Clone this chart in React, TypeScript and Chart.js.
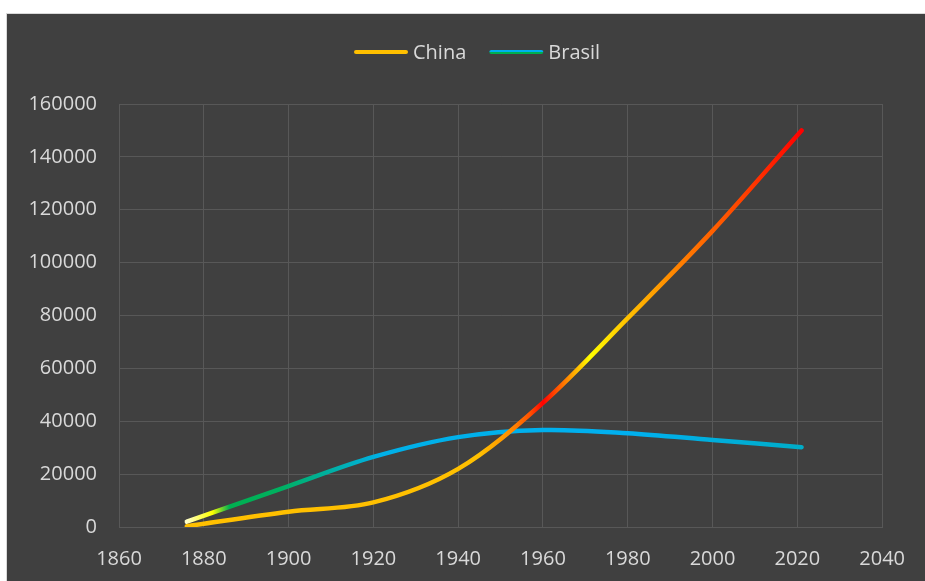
import React, { useEffect, useRef } from "react";
import { Chart, registerables } from "chart.js";

Chart.register(...registerables);

const years = [1876, 1900, 1920, 1940, 1960, 1980, 2000, 2021];
const chinaValues = [300, 5800, 9300, 22000, 47000, 79000, 112000, 150000];
const brasilValues = [2000, 15500, 26500, 34000, 36700, 35500, 32900, 30200];
const seriesLabels = ["China", "Brasil"];
const xTicks = [1860, 1880, 1900, 1920, 1940, 1960, 1980, 2000, 2020, 2040];
const yTicks = [0, 20000, 40000, 60000, 80000, 100000, 120000, 140000, 160000];

const chinaStops: [number, string][] = [
  [1876, "#FFC000"], [1945, "#FFC000"], [1952, "#FF9000"], [1957, "#FF5000"],
  [1960, "#FF0000"], [1962.5, "#FF4000"], [1966, "#FF9000"], [1969, "#FFD000"],
  [1971, "#FFFF00"], [1980, "#FFC000"], [1992, "#FF8000"], [2004, "#FF5000"],
  [2021, "#FF0000"],
];
const brasilStops: [number, string][] = [
  [1876, "#FFFFC8"], [1879, "#FFFF60"], [1882, "#FFFF00"], [1886, "#00B050"],
  [1898, "#00B060"], [1912, "#00B0B0"], [1922, "#00B0E8"], [1980, "#00B0F0"],
  [2021, "#00ACC8"],
];

const FONT = '"Open Sans", sans-serif';
const TEXT = "#d9d9d9";
const GRID = "#585858";

function makeGradient(chart: any, stops: [number, string][], fallback: string) {
  const area = chart.chartArea;
  const xs = chart.scales && chart.scales.x;
  if (!area || !xs) return fallback;
  const a = stops[0][0];
  const b = stops[stops.length - 1][0];
  const x0 = xs.getPixelForValue(a);
  const x1 = xs.getPixelForValue(b);
  const g = chart.ctx.createLinearGradient(x0, 0, x1, 0);
  stops.forEach(([yr, c]) => g.addColorStop(Math.min(1, Math.max(0, (yr - a) / (b - a))), c));
  return g;
}

const legendPlugin = {
  id: "customLegend",
  afterDraw(chart: any) {
    const ctx = chart.ctx;
    ctx.save();
    ctx.font = `20px ${FONT}`;
    ctx.textBaseline = "alphabetic";
    ctx.fillStyle = TEXT;
    const lineW = 54;
    const gap = 5;
    const itemGap = 23;
    let x = 347;
    const lineY = 38;
    const textY = 45;
    chart.data.datasets.forEach((ds: any, i: number) => {
      ctx.lineWidth = 4;
      ctx.lineCap = "round";
      if (i === 0) {
        ctx.strokeStyle = "#FFC000";
      } else {
        const g = ctx.createLinearGradient(0, lineY - 2, 0, lineY + 2);
        g.addColorStop(0, "#00B0F0");
        g.addColorStop(0.5, "#00B0F0");
        g.addColorStop(0.5, "#00B050");
        g.addColorStop(1, "#00B050");
        ctx.strokeStyle = g;
      }
      ctx.beginPath();
      ctx.moveTo(x + 2, lineY);
      ctx.lineTo(x + lineW - 2, lineY);
      ctx.stroke();
      x += lineW + gap;
      ctx.fillStyle = TEXT;
      ctx.fillText(ds.label, x, textY);
      x += ctx.measureText(ds.label).width + itemGap;
    });
    ctx.restore();
  },
};

export default function App() {
  const ref = useRef<HTMLCanvasElement>(null);
  useEffect(() => {
    if (!ref.current) return;
    const chart = new Chart(ref.current, {
      type: "line",
      data: {
        datasets: [
          {
            label: seriesLabels[0],
            data: years.map((y, i) => ({ x: y, y: chinaValues[i] })),
            borderColor: (c: any) => makeGradient(c.chart, chinaStops, "#FFC000"),
            borderWidth: 4.5,
            borderCapStyle: "round",
            pointRadius: 0,
            tension: 0.33,
            fill: false,
          },
          {
            label: seriesLabels[1],
            data: years.map((y, i) => ({ x: y, y: brasilValues[i] })),
            borderColor: (c: any) => makeGradient(c.chart, brasilStops, "#00B0F0"),
            borderWidth: 4.5,
            borderCapStyle: "round",
            pointRadius: 0,
            tension: 0.33,
            fill: false,
          },
        ],
      },
      options: {
        animation: false,
        responsive: false,
        layout: { padding: { top: 90, right: 39, bottom: 0, left: 0 } },
        plugins: { legend: { display: false }, tooltip: { enabled: false } },
        scales: {
          x: {
            type: "linear",
            min: 1860,
            max: 2040,
            afterBuildTicks: (axis: any) => {
              axis.ticks = xTicks.map((v) => ({ value: v }));
            },
            afterFit: (s: any) => {
              s.height = 54;
            },
            grid: { color: GRID, lineWidth: 1, drawTicks: false },
            border: { color: GRID, width: 1 },
            ticks: {
              color: TEXT,
              font: { family: FONT, size: 20 },
              padding: 20,
              maxRotation: 0,
              callback: (v: any) => String(v),
            },
          },
          y: {
            type: "linear",
            min: 0,
            max: 160000,
            afterBuildTicks: (axis: any) => {
              axis.ticks = yTicks.map((v) => ({ value: v }));
            },
            afterFit: (s: any) => {
              s.width = 112;
            },
            grid: { color: GRID, lineWidth: 1, drawTicks: false },
            border: { color: GRID, width: 1 },
            ticks: {
              color: TEXT,
              font: { family: FONT, size: 20 },
              padding: 22,
              callback: (v: any) => String(v),
            },
          },
        },
      },
      plugins: [legendPlugin],
    } as any);
    return () => chart.destroy();
  }, []);

  return (
    <div
      style={{
        position: "absolute",
        left: 6,
        top: 13,
        width: 918,
        height: 567,
        background: "#404040",
        borderTop: "1px solid #d9d9d9",
        borderLeft: "1px solid #d9d9d9",
      }}
    >
      <canvas ref={ref} width={918} height={567} style={{ display: "block" }} />
    </div>
  );
}
